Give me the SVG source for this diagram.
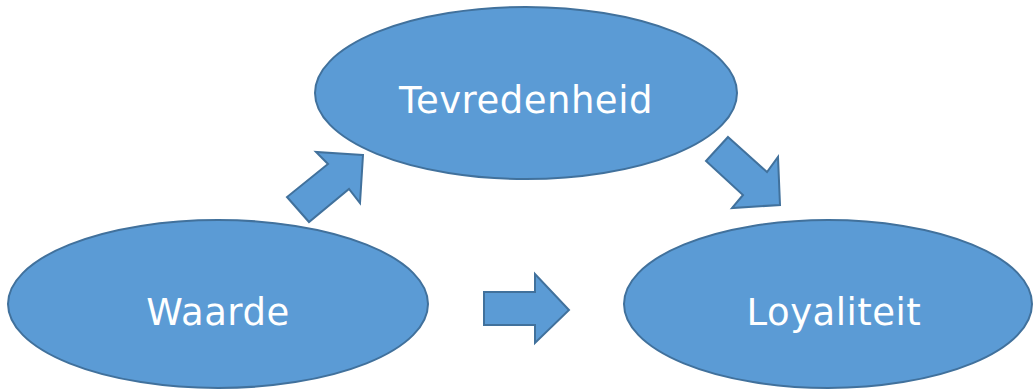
<svg xmlns="http://www.w3.org/2000/svg" width="1033" height="390" viewBox="0 0 1033 390">
<style>
.shape{fill:#5B9BD5;stroke:#41719C;stroke-width:2;stroke-linejoin:miter}
.lbl{fill:#FFFFFF;font-family:"DejaVu Sans","Verdana",sans-serif;font-size:37px;letter-spacing:0.5px;text-anchor:middle}
</style>
<rect width="1033" height="390" fill="#FFFFFF"/>
<g id="connectors">
<polygon class="shape" points="363,155 316,152 328,164 287,197 309,222 349,189 360,203"/>
<polygon class="shape" points="728,137 767,172 778,157 780,205 732,208 743,195 706,161"/>
<polygon class="shape" points="484,292 535,292 535,274 569,310 535,343 535,325 484,325"/>
</g>
<g id="tevredenheid">
<ellipse class="shape" cx="526" cy="93" rx="211" ry="86"/>
<text class="lbl" x="526" y="113">Tevredenheid</text>
</g>
<g id="waarde">
<ellipse class="shape" cx="218" cy="304" rx="210" ry="84"/>
<text class="lbl" x="218" y="325">Waarde</text>
</g>
<g id="loyaliteit">
<ellipse class="shape" cx="828" cy="304" rx="204" ry="84"/>
<text class="lbl" x="834" y="325">Loyaliteit</text>
</g>
</svg>
